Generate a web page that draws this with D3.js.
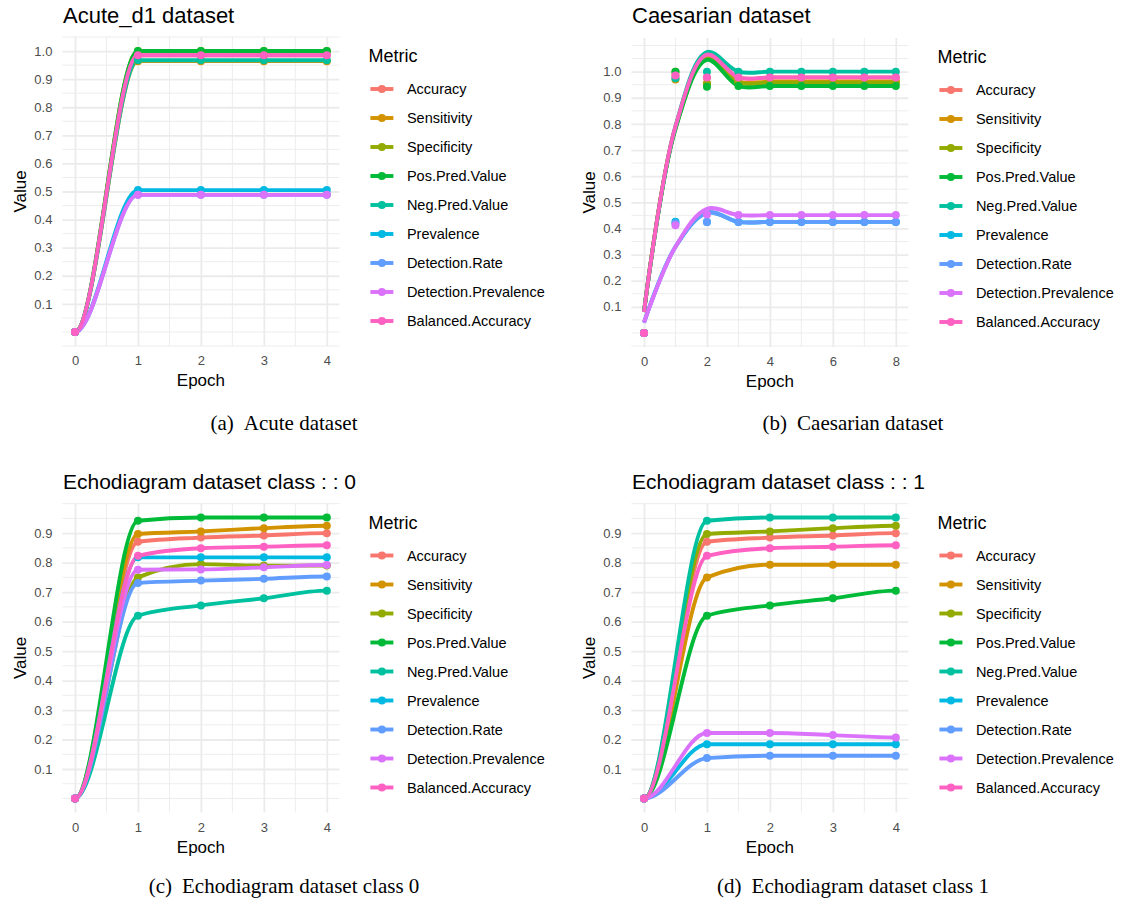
<!DOCTYPE html>
<html>
<head>
<meta charset="utf-8">
<script src="https://cdn.jsdelivr.net/npm/d3@7"></script>
<style>
  body { margin: 0; background: #fff; }
  svg { display: block; font-family: "Liberation Sans", Arial, sans-serif; }
</style>
</head>
<body>
<div id="chart"></div>
<script>
// metric names and ggplot hue colours
const metrics = ["Accuracy", "Sensitivity", "Specificity", "Pos.Pred.Value", "Neg.Pred.Value",
  "Prevalence", "Detection.Rate", "Detection.Prevalence", "Balanced.Accuracy"];
const metricColors = ["#F8766D", "#D39200", "#93AA00", "#00BA38", "#00C19F",
  "#00B9E3", "#619CFF", "#DB72FB", "#FF61C3"];

// (a) Acute
const acuteEpochs = [0, 1, 2, 3, 4];
const acuteValues = [
  [0, 0.985, 0.985, 0.985, 0.985],
  [0, 0.964, 0.964, 0.964, 0.964],
  [0, 1.0, 1.0, 1.0, 1.0],
  [0, 1.0, 1.0, 1.0, 1.0],
  [0, 0.967, 0.967, 0.967, 0.967],
  [0, 0.505, 0.505, 0.505, 0.505],
  [0, 0.488, 0.488, 0.488, 0.488],
  [0, 0.488, 0.488, 0.488, 0.488],
  [0, 0.985, 0.985, 0.985, 0.985]
];

// (b) Caesarian: observed points and the smoothed curve values
const caesarianEpochs = [0, 1, 2, 3, 4, 5, 6, 7, 8];
const caesarianValues = [
  [0, 0.985, 0.978, 0.978, 0.978, 0.978, 0.978, 0.978, 0.978],
  [0, 0.970, 0.955, 0.962, 0.962, 0.962, 0.962, 0.962, 0.962],
  [0, 1.0, 0.955, 0.958, 0.958, 0.958, 0.958, 0.958, 0.958],
  [0, 1.0, 0.942, 0.945, 0.945, 0.945, 0.945, 0.945, 0.945],
  [0, 0.975, 1.0, 1.0, 1.0, 1.0, 1.0, 1.0, 1.0],
  [0, 0.426, 0.425, 0.425, 0.425, 0.425, 0.425, 0.425, 0.425],
  [0, 0.420, 0.425, 0.425, 0.425, 0.425, 0.425, 0.425, 0.425],
  [0, 0.412, 0.453, 0.451, 0.451, 0.451, 0.451, 0.451, 0.451],
  [0, 0.985, 0.978, 0.978, 0.978, 0.978, 0.978, 0.978, 0.978]
];
const caesarianFit = [
  [0.08, 0.79, 1.065, 0.978, 0.978, 0.978, 0.978, 0.978, 0.978],
  [0.08, 0.785, 1.05, 0.962, 0.962, 0.962, 0.962, 0.962, 0.962],
  [0.08, 0.785, 1.05, 0.958, 0.958, 0.958, 0.958, 0.958, 0.958],
  [0.08, 0.78, 1.045, 0.945, 0.945, 0.945, 0.945, 0.945, 0.945],
  [0.08, 0.79, 1.075, 1.0, 1.0, 1.0, 1.0, 1.0, 1.0],
  [0.04, 0.33, 0.46, 0.425, 0.425, 0.425, 0.425, 0.425, 0.425],
  [0.04, 0.33, 0.46, 0.425, 0.425, 0.425, 0.425, 0.425, 0.425],
  [0.04, 0.33, 0.475, 0.451, 0.451, 0.451, 0.451, 0.451, 0.451],
  [0.08, 0.79, 1.065, 0.978, 0.978, 0.978, 0.978, 0.978, 0.978]
];

// (c) Echodiagram class 0
const echoEpochs = [0, 1, 2, 3, 4];
const echo0Values = [
  [0, 0.871, 0.885, 0.892, 0.900],
  [0, 0.897, 0.906, 0.917, 0.925],
  [0, 0.750, 0.795, 0.790, 0.790],
  [0, 0.942, 0.953, 0.953, 0.953],
  [0, 0.620, 0.655, 0.679, 0.705],
  [0, 0.818, 0.818, 0.818, 0.818],
  [0, 0.731, 0.739, 0.745, 0.753],
  [0, 0.776, 0.777, 0.784, 0.792],
  [0, 0.823, 0.849, 0.854, 0.859]
];

// (d) Echodiagram class 1
const echo1Values = [
  [0, 0.871, 0.885, 0.892, 0.900],
  [0, 0.750, 0.793, 0.793, 0.793],
  [0, 0.897, 0.906, 0.917, 0.925],
  [0, 0.620, 0.655, 0.679, 0.705],
  [0, 0.942, 0.953, 0.953, 0.953],
  [0, 0.184, 0.184, 0.184, 0.184],
  [0, 0.137, 0.145, 0.145, 0.145],
  [0, 0.222, 0.222, 0.215, 0.207],
  [0, 0.823, 0.849, 0.854, 0.859]
];

const yTicksTall = [0.1, 0.2, 0.3, 0.4, 0.5, 0.6, 0.7, 0.8, 0.9, 1.0];
const yTicksShort = [0.1, 0.2, 0.3, 0.4, 0.5, 0.6, 0.7, 0.8, 0.9];

const W = 1121, H = 904;
const svg = d3.select("#chart").append("svg").attr("width", W).attr("height", H);

const panelW = 277, panelH = 309;

// monotone cubic, but flat at both ends (looks like the xspline in the original)
function curveFlatEnds(context) {
  var pts;
  return {
    lineStart: function() { pts = []; },
    point: function(x, y) { pts.push([+x, +y]); },
    lineEnd: function() {
      var n = pts.length;
      if (!n) return;
      var m = new Array(n).fill(0);
      for (var i = 1; i < n - 1; i++) {
        var h0 = pts[i][0] - pts[i - 1][0], h1 = pts[i + 1][0] - pts[i][0];
        var s0 = (pts[i][1] - pts[i - 1][1]) / h0, s1 = (pts[i + 1][1] - pts[i][1]) / h1;
        if (s0 * s1 <= 0) { m[i] = 0; continue; }
        var p = (s0 * h1 + s1 * h0) / (h0 + h1);
        m[i] = (Math.sign(s0) + Math.sign(s1)) * Math.min(Math.abs(s0), Math.abs(s1), 0.5 * Math.abs(p));
      }
      context.moveTo(pts[0][0], pts[0][1]);
      for (var j = 1; j < n; j++) {
        var a = pts[j - 1], b = pts[j], dx = (b[0] - a[0]) / 3;
        context.bezierCurveTo(a[0] + dx, a[1] + dx * m[j - 1], b[0] - dx, b[1] - dx * m[j], b[0], b[1]);
      }
    }
  };
}

function drawPanel(opt) {
  var g = svg.append("g").attr("transform", "translate(" + opt.left + "," + opt.top + ")");

  var allY = d3.merge(opt.values.concat(opt.fit || []));
  var ext = d3.extent(allY), yPad = (ext[1] - ext[0]) * 0.05;
  var xExt = d3.extent(opt.epochs), xPad = (xExt[1] - xExt[0]) * 0.05;

  var x = d3.scaleLinear().domain([xExt[0] - xPad, xExt[1] + xPad]).range([0, panelW]);
  var y = d3.scaleLinear().domain([ext[0] - yPad, ext[1] + yPad]).range([panelH, 0]);

  // minor grid
  var yStep = opt.yTicks[1] - opt.yTicks[0];
  var yMinor = d3.range(Math.ceil(y.domain()[0] / (yStep / 2) - 1e-6), Math.floor(y.domain()[1] / (yStep / 2) + 1e-6) + 1)
    .map(k => k * yStep / 2)
    .filter(v => !opt.yTicks.some(t => Math.abs(t - v) < 1e-6));
  var xStep = opt.xTicks[1] - opt.xTicks[0];
  var xMinor = d3.range(opt.xTicks[0] - xStep / 2, opt.xTicks[opt.xTicks.length - 1] + xStep, xStep)
    .filter(v => v >= x.domain()[0] && v <= x.domain()[1]);

  g.append("g").selectAll("line").data(yMinor).join("line")
    .attr("x1", 0).attr("x2", panelW)
    .attr("y1", d => y(d)).attr("y2", d => y(d))
    .attr("stroke", "#EBEBEB").attr("stroke-width", 0.9);
  g.append("g").selectAll("line").data(xMinor).join("line")
    .attr("y1", 0).attr("y2", panelH)
    .attr("x1", d => x(d)).attr("x2", d => x(d))
    .attr("stroke", "#EBEBEB").attr("stroke-width", 0.9);

  // major grid + labels
  g.append("g").attr("class", "y axis")
    .call(d3.axisLeft(y).tickValues(opt.yTicks).tickFormat(d3.format(".1f")).tickSize(-panelW).tickPadding(11))
    .call(a => a.select(".domain").remove())
    .call(a => a.selectAll("line").attr("stroke", "#EBEBEB").attr("stroke-width", 1.8))
    .call(a => a.selectAll("text").attr("fill", "#4D4D4D").style("font-size", "13px")
      .attr("x", -10).style("font-family", "Liberation Sans, Arial, sans-serif"));

  g.append("g").attr("class", "x axis")
    .attr("transform", "translate(0," + panelH + ")")
    .call(d3.axisBottom(x).tickValues(opt.xTicks).tickFormat(d3.format("d")).tickSize(-panelH).tickPadding(10))
    .call(a => a.select(".domain").remove())
    .call(a => a.selectAll("line").attr("stroke", "#EBEBEB").attr("stroke-width", 1.8))
    .call(a => a.selectAll("text").attr("fill", "#4D4D4D").style("font-size", "13px")
      .style("font-family", "Liberation Sans, Arial, sans-serif"));

  // lines
  var lineData = (opt.fit || opt.values).map((vals, i) => ({ i: i, pts: vals.map((v, j) => [opt.epochs[j], v]) }));
  var line = d3.line().x(d => x(d[0])).y(d => y(d[1])).curve(opt.curve);
  g.append("g").selectAll("path").data(lineData).join("path")
    .attr("d", d => line(d.pts))
    .attr("fill", "none")
    .attr("stroke", d => metricColors[d.i])
    .attr("stroke-width", 3.9)
    .attr("stroke-linejoin", "round")
    .attr("stroke-linecap", "butt");

  // points
  var pointData = [];
  opt.values.forEach((vals, i) => vals.forEach((v, j) => pointData.push({ i: i, x: opt.epochs[j], y: v })));
  g.append("g").selectAll("circle").data(pointData).join("circle")
    .attr("cx", d => x(d.x)).attr("cy", d => y(d.y)).attr("r", 4)
    .attr("fill", d => metricColors[d.i]);

  // titles
  g.append("text").attr("x", 0.6).attr("y", opt.titleY)
    .style("font-size", opt.titleSize).attr("fill", "#000").text(opt.title);
  g.append("text").attr("x", panelW / 2).attr("y", panelH + 40)
    .attr("text-anchor", "middle").style("font-size", "17px").text("Epoch");
  g.append("text")
    .attr("transform", "translate(-42," + (panelH / 2) + ") rotate(-90)")
    .attr("text-anchor", "middle").attr("dy", "0.35em").style("font-size", "17px").text("Value");

  // legend
  var lg = g.append("g").attr("transform", "translate(" + (panelW + 29) + ",0)");
  lg.append("text").attr("x", 0).attr("y", 25).style("font-size", "18px").text("Metric");
  var items = lg.selectAll("g.item").data(metrics).join("g").attr("class", "item")
    .attr("transform", (d, i) => "translate(0," + (52 + i * 29) + ")");
  items.append("line").attr("x1", 2).attr("x2", 25).attr("y1", 0).attr("y2", 0)
    .attr("stroke", (d, i) => metricColors[i]).attr("stroke-width", 3.9);
  items.append("circle").attr("cx", 13.5).attr("cy", 0).attr("r", 4)
    .attr("fill", (d, i) => metricColors[i]);
  items.append("text").attr("x", 38.5).attr("y", 0).attr("dy", "0.35em")
    .style("font-size", "14.5px").text(d => d);

  // caption
  var cap = svg.append("text").attr("x", opt.capX).attr("y", opt.capY)
    .attr("text-anchor", "middle")
    .style("font-family", "Liberation Serif, Times New Roman, serif")
    .style("font-size", "21px");
  cap.append("tspan").text(opt.capTag);
  cap.append("tspan").attr("dx", 10).text(opt.caption);
}

drawPanel({ left: 62.4, top: 37, title: "Acute_d1 dataset", titleY: -14, titleSize: "22px",
  epochs: acuteEpochs, values: acuteValues, xTicks: [0, 1, 2, 3, 4], yTicks: yTicksTall,
  curve: curveFlatEnds, capTag: "(a)", caption: "Acute dataset", capX: 284, capY: 430 });

drawPanel({ left: 631.4, top: 38, title: "Caesarian dataset", titleY: -15, titleSize: "22px",
  epochs: caesarianEpochs, values: caesarianValues, fit: caesarianFit, xTicks: [0, 2, 4, 6, 8], yTicks: yTicksTall,
  curve: d3.curveCatmullRom.alpha(0.5), capTag: "(b)", caption: "Caesarian dataset", capX: 853, capY: 430 });

drawPanel({ left: 62.4, top: 503.5, title: "Echodiagram dataset class : : 0", titleY: -15, titleSize: "21px",
  epochs: echoEpochs, values: echo0Values, xTicks: [0, 1, 2, 3, 4], yTicks: yTicksShort,
  curve: curveFlatEnds, capTag: "(c)", caption: "Echodiagram dataset class 0", capX: 284, capY: 893 });

drawPanel({ left: 631.4, top: 503.5, title: "Echodiagram dataset class : : 1", titleY: -15, titleSize: "21px",
  epochs: echoEpochs, values: echo1Values, xTicks: [0, 1, 2, 3, 4], yTicks: yTicksShort,
  curve: curveFlatEnds, capTag: "(d)", caption: "Echodiagram dataset class 1", capX: 853, capY: 893 });
</script>
</body>
</html>
